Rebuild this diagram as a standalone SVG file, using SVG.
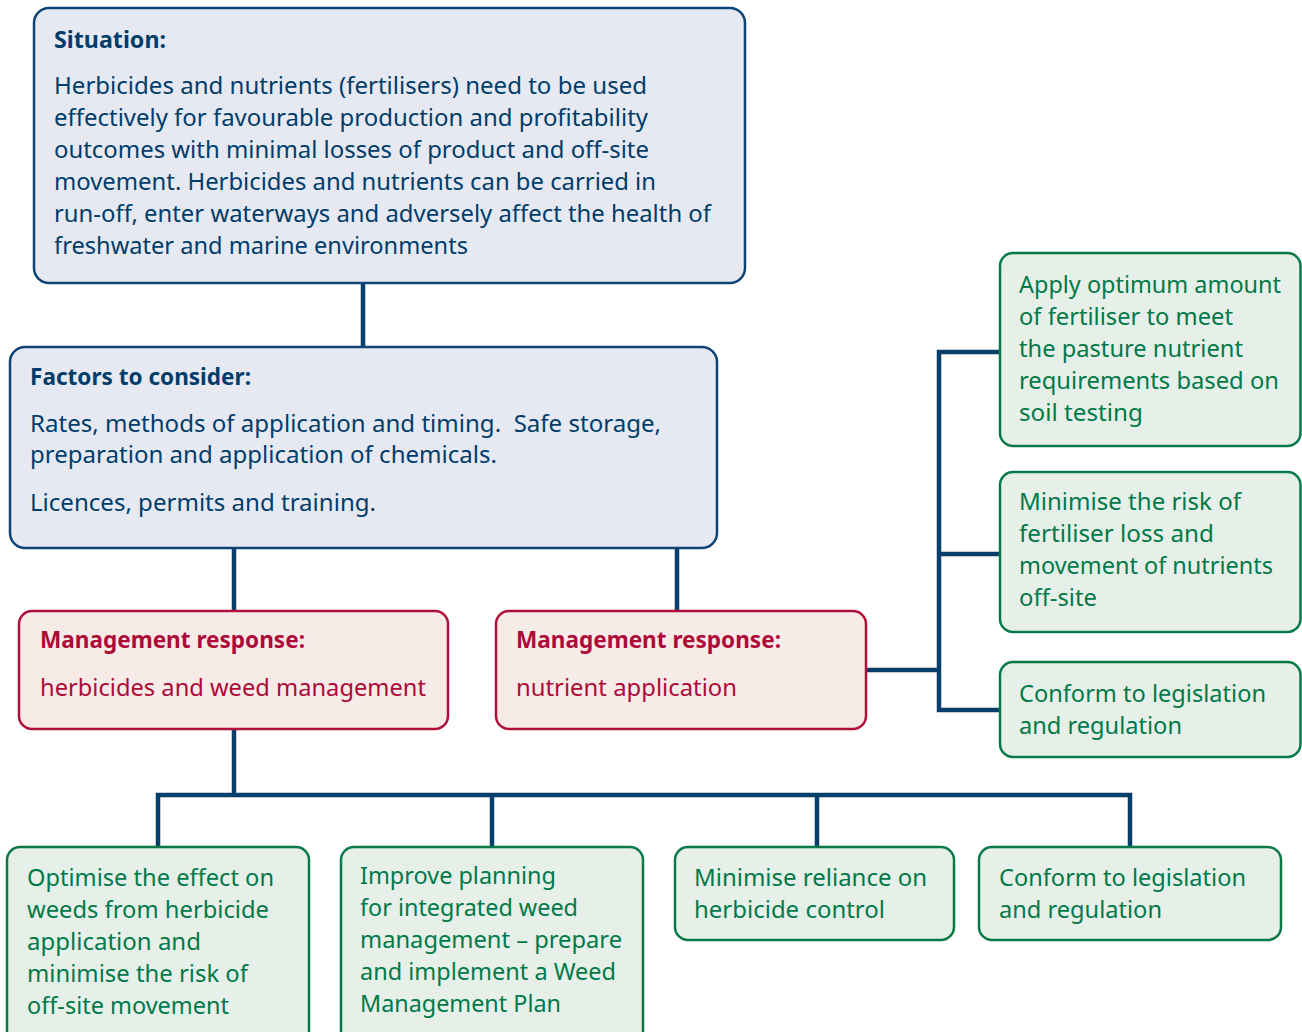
<svg xmlns="http://www.w3.org/2000/svg" width="1302" height="1032" viewBox="0 0 1302 1032">
<style>
  .bx-blue{fill:#e6e9f1;stroke:#0b4475;stroke-width:2.5}
  .bx-red{fill:#f7ebe8;stroke:#b0103a;stroke-width:2.5}
  .bx-green{fill:#e7efe9;stroke:#087a48;stroke-width:2.5}
  .conn{fill:none;stroke:#073f6b;stroke-width:4.5;stroke-linejoin:miter;stroke-linecap:butt}
  text{font-family:"Noto Sans","Open Sans","Liberation Sans",sans-serif;font-size:23px}
  .t-blue{fill:#003d6b}
  .t-red{fill:#ad0a38}
  .t-green{fill:#007a48}
  .b{font-weight:bold}
</style>
<rect width="1302" height="1032" fill="#ffffff"/>
<g id="connectors">
  <path class="conn" d="M363,284 V348"/>
  <path class="conn" d="M234,548 V611"/>
  <path class="conn" d="M677,548 V611"/>
  <path class="conn" d="M866,670 H939"/>
  <path class="conn" d="M1000,352 H939 V710 H1000"/>
  <path class="conn" d="M939,554 H1000"/>
  <path class="conn" d="M234,729 V795"/>
  <path class="conn" d="M158,847 V795 H1130 V847"/>
  <path class="conn" d="M492,795 V847"/>
  <path class="conn" d="M817,795 V847"/>
</g>
<g id="situation">
  <rect class="bx-blue" x="34" y="8" width="711" height="275" rx="15"/>
  <text class="t-blue b" x="54" y="48" textLength="112" lengthAdjust="spacingAndGlyphs">Situation:</text>
  <text class="t-blue" x="54" y="94" textLength="593" lengthAdjust="spacingAndGlyphs">Herbicides and nutrients (fertilisers) need to be used</text>
  <text class="t-blue" x="54" y="126" textLength="594" lengthAdjust="spacingAndGlyphs">effectively for favourable production and profitability</text>
  <text class="t-blue" x="54" y="158" textLength="595" lengthAdjust="spacingAndGlyphs">outcomes with minimal losses of product and off-site</text>
  <text class="t-blue" x="54" y="190" textLength="602" lengthAdjust="spacingAndGlyphs">movement. Herbicides and nutrients can be carried in</text>
  <text class="t-blue" x="54" y="222" textLength="657" lengthAdjust="spacingAndGlyphs">run-off, enter waterways and adversely affect the health of</text>
  <text class="t-blue" x="54" y="254" textLength="414" lengthAdjust="spacingAndGlyphs">freshwater and marine environments</text>
</g>
<g id="factors">
  <rect class="bx-blue" x="10" y="347" width="707" height="201" rx="15"/>
  <text class="t-blue b" x="30" y="385" textLength="221" lengthAdjust="spacingAndGlyphs">Factors to consider:</text>
  <text class="t-blue" x="30" y="432" textLength="631" lengthAdjust="spacingAndGlyphs">Rates, methods of application and timing.&#160; Safe storage,</text>
  <text class="t-blue" x="30" y="463" textLength="467" lengthAdjust="spacingAndGlyphs">preparation and application of chemicals.</text>
  <text class="t-blue" x="30" y="511" textLength="346" lengthAdjust="spacingAndGlyphs">Licences, permits and training.</text>
</g>
<g id="mr-herbicides">
  <rect class="bx-red" x="19" y="611" width="429" height="118" rx="13"/>
  <text class="t-red b" x="40" y="648" textLength="265" lengthAdjust="spacingAndGlyphs">Management response:</text>
  <text class="t-red" x="40" y="696" textLength="386" lengthAdjust="spacingAndGlyphs">herbicides and weed management</text>
</g>
<g id="mr-nutrient">
  <rect class="bx-red" x="496" y="611" width="370" height="118" rx="13"/>
  <text class="t-red b" x="516" y="648" textLength="265" lengthAdjust="spacingAndGlyphs">Management response:</text>
  <text class="t-red" x="516" y="696" textLength="221" lengthAdjust="spacingAndGlyphs">nutrient application</text>
</g>
<g id="n-apply-optimum">
  <rect class="bx-green" x="1000" y="253" width="300.5" height="193" rx="13"/>
  <text class="t-green" x="1019" y="293" textLength="262" lengthAdjust="spacingAndGlyphs">Apply optimum amount</text>
  <text class="t-green" x="1019" y="325" textLength="214" lengthAdjust="spacingAndGlyphs">of fertiliser to meet</text>
  <text class="t-green" x="1019" y="357" textLength="224" lengthAdjust="spacingAndGlyphs">the pasture nutrient</text>
  <text class="t-green" x="1019" y="389" textLength="260" lengthAdjust="spacingAndGlyphs">requirements based on</text>
  <text class="t-green" x="1019" y="421" textLength="124" lengthAdjust="spacingAndGlyphs">soil testing</text>
</g>
<g id="n-minimise-fertiliser">
  <rect class="bx-green" x="1000" y="472" width="300.5" height="160" rx="13"/>
  <text class="t-green" x="1019" y="510" textLength="222" lengthAdjust="spacingAndGlyphs">Minimise the risk of</text>
  <text class="t-green" x="1019" y="542" textLength="195" lengthAdjust="spacingAndGlyphs">fertiliser loss and</text>
  <text class="t-green" x="1019" y="574" textLength="254" lengthAdjust="spacingAndGlyphs">movement of nutrients</text>
  <text class="t-green" x="1019" y="606" textLength="78" lengthAdjust="spacingAndGlyphs">off-site</text>
</g>
<g id="n-conform-nutrient">
  <rect class="bx-green" x="1000" y="662" width="300.5" height="95" rx="13"/>
  <text class="t-green" x="1019" y="702" textLength="247" lengthAdjust="spacingAndGlyphs">Conform to legislation</text>
  <text class="t-green" x="1019" y="734" textLength="163" lengthAdjust="spacingAndGlyphs">and regulation</text>
</g>
<g id="n-optimise">
  <rect class="bx-green" x="7" y="847" width="302" height="200" rx="13"/>
  <text class="t-green" x="27" y="886" textLength="247" lengthAdjust="spacingAndGlyphs">Optimise the effect on</text>
  <text class="t-green" x="27" y="918" textLength="242" lengthAdjust="spacingAndGlyphs">weeds from herbicide</text>
  <text class="t-green" x="27" y="950" textLength="174" lengthAdjust="spacingAndGlyphs">application and</text>
  <text class="t-green" x="27" y="982" textLength="221" lengthAdjust="spacingAndGlyphs">minimise the risk of</text>
  <text class="t-green" x="27" y="1014" textLength="202" lengthAdjust="spacingAndGlyphs">off-site movement</text>
</g>
<g id="n-improve-planning">
  <rect class="bx-green" x="341" y="847" width="302" height="200" rx="13"/>
  <text class="t-green" x="360" y="884" textLength="196" lengthAdjust="spacingAndGlyphs">Improve planning</text>
  <text class="t-green" x="360" y="916" textLength="218" lengthAdjust="spacingAndGlyphs">for integrated weed</text>
  <text class="t-green" x="360" y="948" textLength="262" lengthAdjust="spacingAndGlyphs">management – prepare</text>
  <text class="t-green" x="360" y="980" textLength="256" lengthAdjust="spacingAndGlyphs">and implement a Weed</text>
  <text class="t-green" x="360" y="1012" textLength="201" lengthAdjust="spacingAndGlyphs">Management Plan</text>
</g>
<g id="n-minimise-reliance">
  <rect class="bx-green" x="675" y="847" width="279" height="93" rx="13"/>
  <text class="t-green" x="694" y="886" textLength="233" lengthAdjust="spacingAndGlyphs">Minimise reliance on</text>
  <text class="t-green" x="694" y="918" textLength="191" lengthAdjust="spacingAndGlyphs">herbicide control</text>
</g>
<g id="n-conform-herbicide">
  <rect class="bx-green" x="979" y="847" width="302" height="93" rx="13"/>
  <text class="t-green" x="999" y="886" textLength="247" lengthAdjust="spacingAndGlyphs">Conform to legislation</text>
  <text class="t-green" x="999" y="918" textLength="163" lengthAdjust="spacingAndGlyphs">and regulation</text>
</g>
</svg>
